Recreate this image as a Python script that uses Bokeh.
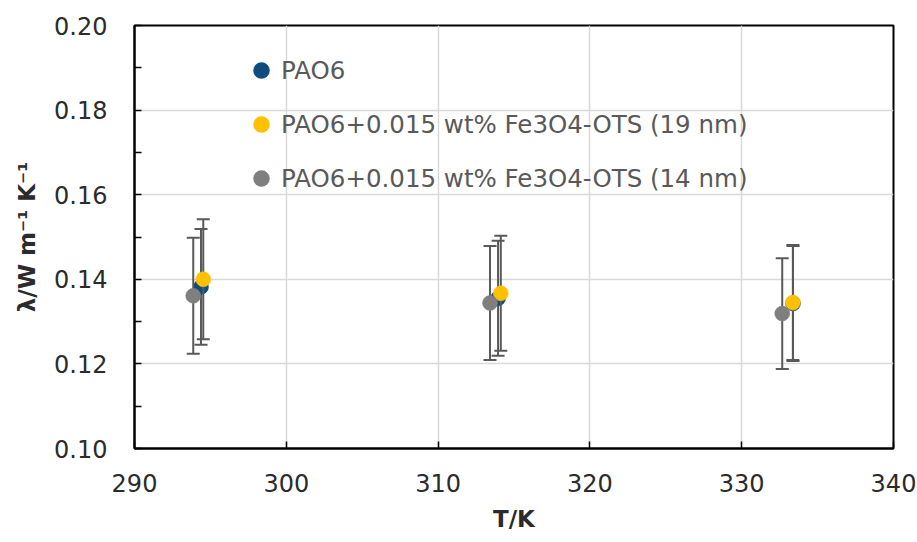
from bokeh.plotting import figure
from bokeh.models import (ColumnDataSource, FixedTicker, NumeralTickFormatter,
                          Legend, LegendItem, Range1d)
from bokeh.embed import file_html
from bokeh.resources import INLINE

# Thermal conductivity of PAO6 with and without Fe3O4-OTS nanoparticles
series_names = [
    "PAO6",
    "PAO6+0.015 wt% Fe3O4-OTS (19 nm)",
    "PAO6+0.015 wt% Fe3O4-OTS (14 nm)",
]
series_colors = ["#0E4C7E", "#FFC000", "#7F7F7F"]

T_pao6 = [294.38, 313.95, 333.38]
lam_pao6 = [0.1382, 0.1355, 0.1343]
err_pao6 = [0.0137, 0.0136, 0.0136]

T_19nm = [294.53, 314.13, 333.37]
lam_19nm = [0.1400, 0.1367, 0.1345]
err_19nm = [0.0142, 0.0136, 0.0136]

T_14nm = [293.87, 313.42, 332.67]
lam_14nm = [0.1361, 0.1344, 0.1319]
err_14nm = [0.0137, 0.0135, 0.0131]

x_ticks = [290, 300, 310, 320, 330, 340]
y_ticks = [0.10, 0.12, 0.14, 0.16, 0.18, 0.20]
y_minor = [0.11, 0.13, 0.15, 0.17, 0.19]

FONT = "DejaVu Sans"
TXT = "#2B2B2B"

p = figure(width=917, height=542, output_backend="svg", toolbar_location=None,
           x_range=Range1d(290, 340), y_range=Range1d(0.10, 0.20),
           min_border_left=134, min_border_right=24, min_border_top=25,
           min_border_bottom=94)
p.background_fill_color = "white"
p.border_fill_color = "white"
p.outline_line_color = "black"
p.outline_line_width = 2

# grid
p.xgrid.ticker = FixedTicker(ticks=x_ticks)
p.ygrid.ticker = FixedTicker(ticks=y_ticks)
for g in (p.xgrid, p.ygrid):
    g.grid_line_color = "#D9D9D9"
    g.grid_line_width = 1.5

# axes
p.xaxis.ticker = FixedTicker(ticks=x_ticks)
p.yaxis.ticker = FixedTicker(ticks=y_ticks, minor_ticks=y_minor)
p.yaxis.formatter = NumeralTickFormatter(format="0.00")
for ax in (p.xaxis, p.yaxis):
    ax.axis_line_color = "black"
    ax.axis_line_width = 2
    ax.major_tick_in = 7
    ax.major_tick_out = 0
    ax.major_tick_line_color = "black"
    ax.major_tick_line_width = 1.5
    ax.major_label_text_font = FONT
    ax.major_label_text_font_size = "24px"
    ax.major_label_text_color = TXT
    ax.axis_label_text_font = FONT
    ax.axis_label_text_font_size = "23px"
    ax.axis_label_text_font_style = "bold"
    ax.axis_label_text_color = TXT
p.xaxis.minor_tick_line_color = None
p.yaxis.minor_tick_in = 7
p.yaxis.minor_tick_out = 0
p.yaxis.minor_tick_line_color = "black"
p.yaxis.minor_tick_line_width = 1.5
p.xaxis.major_label_standoff = 25
p.yaxis.major_label_standoff = 27
p.xaxis.axis_label = "T/K"
p.yaxis.axis_label = "λ/W m⁻¹ K⁻¹"
p.xaxis.axis_label_standoff = 11
p.yaxis.axis_label_standoff = 11

series = [
    (T_pao6, lam_pao6, err_pao6),
    (T_19nm, lam_19nm, err_19nm),
    (T_14nm, lam_14nm, err_14nm),
]

items = []
for name, color, (T, lam, err) in zip(series_names, series_colors, series):
    lo = [v - e for v, e in zip(lam, err)]
    hi = [v + e for v, e in zip(lam, err)]
    src = ColumnDataSource(dict(T=T, lam=lam, lo=lo, hi=hi))
    # error bars with flat caps
    p.segment(x0="T", y0="lo", x1="T", y1="hi", source=src,
              line_color="#595959", line_width=2)
    p.scatter(x="T", y="lo", source=src, marker="dash", size=13,
              line_color="#595959", line_width=2)
    p.scatter(x="T", y="hi", source=src, marker="dash", size=13,
              line_color="#595959", line_width=2)
    r = p.scatter(x="T", y="lam", source=src, marker="circle", size=15,
                  fill_color=color, line_color=color, line_width=0.5)
    items.append(LegendItem(label=name, renderers=[r]))

legend = Legend(items=items, location=(107, 250), orientation="vertical",
                glyph_width=40, glyph_height=40, label_height=40,
                label_standoff=-2, spacing=14, padding=0, margin=0,
                border_line_color=None, background_fill_alpha=0,
                label_text_font=FONT, label_text_font_size="24.5px",
                label_text_color="#595959")
p.add_layout(legend, "center")

open("out.html", "w").write(file_html(p, INLINE))
